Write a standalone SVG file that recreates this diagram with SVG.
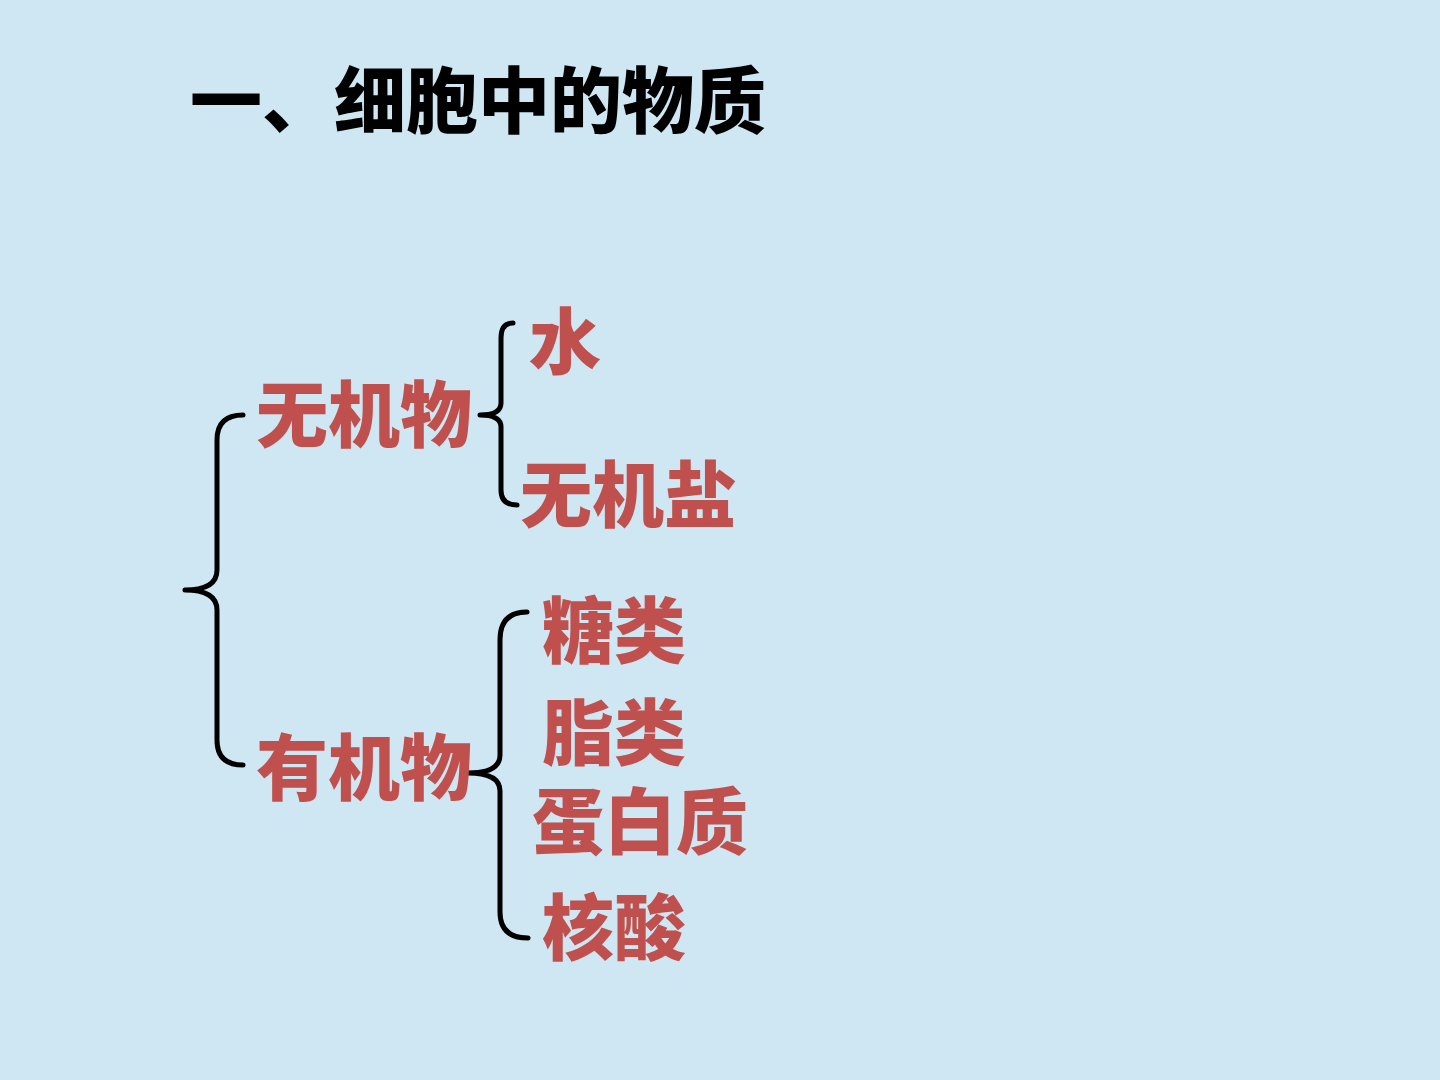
<svg xmlns="http://www.w3.org/2000/svg" width="1440" height="1080" viewBox="0 0 1440 1080">
<style>
.t{font-family:"Noto Sans CJK SC","Noto Sans CJK JP",sans-serif;font-weight:900;}
.title{font-size:72px;fill:#000;}
.lbl{font-size:72px;fill:#c0504d;}
.br{fill:none;stroke:#000;stroke-width:5;stroke-linecap:round;stroke-linejoin:round;}
</style>
<rect width="1440" height="1080" fill="#cfe7f3"/>
<text class="t title" x="190" y="127">一、细胞中的物质</text>
<g id="connectors">
<path class="br" d="M243 415 Q217 415 217 440 L217 570 Q217 590 185 590 Q217 590 217 610 L217 740 Q217 765 243 765"/>
<path class="br" d="M513 323 Q501 323 501 338 L501 403 Q501 415 480 415 Q501 415 501 427 L501 490 Q501 505 517 505"/>
<path class="br" d="M527 612 Q500 612 500 640 L500 755 Q500 773 468 773 Q500 773 500 791 L500 912 Q500 938 528 938"/>
</g>
<g id="n-wujiwu"><text class="t lbl" x="256" y="441">无机物</text></g>
<g id="n-youjiwu"><text class="t lbl" x="256" y="794">有机物</text></g>
<g id="n-shui"><text class="t lbl" x="529" y="368">水</text></g>
<g id="n-wujiyan"><text class="t lbl" x="520" y="521">无机盐</text></g>
<g id="n-tanglei"><text class="t lbl" x="542" y="657">糖类</text></g>
<g id="n-zhilei"><text class="t lbl" x="542" y="759">脂类</text></g>
<g id="n-danbaizhi"><text class="t lbl" x="532" y="848">蛋白质</text></g>
<g id="n-hesuan"><text class="t lbl" x="542" y="954">核酸</text></g>
</svg>
